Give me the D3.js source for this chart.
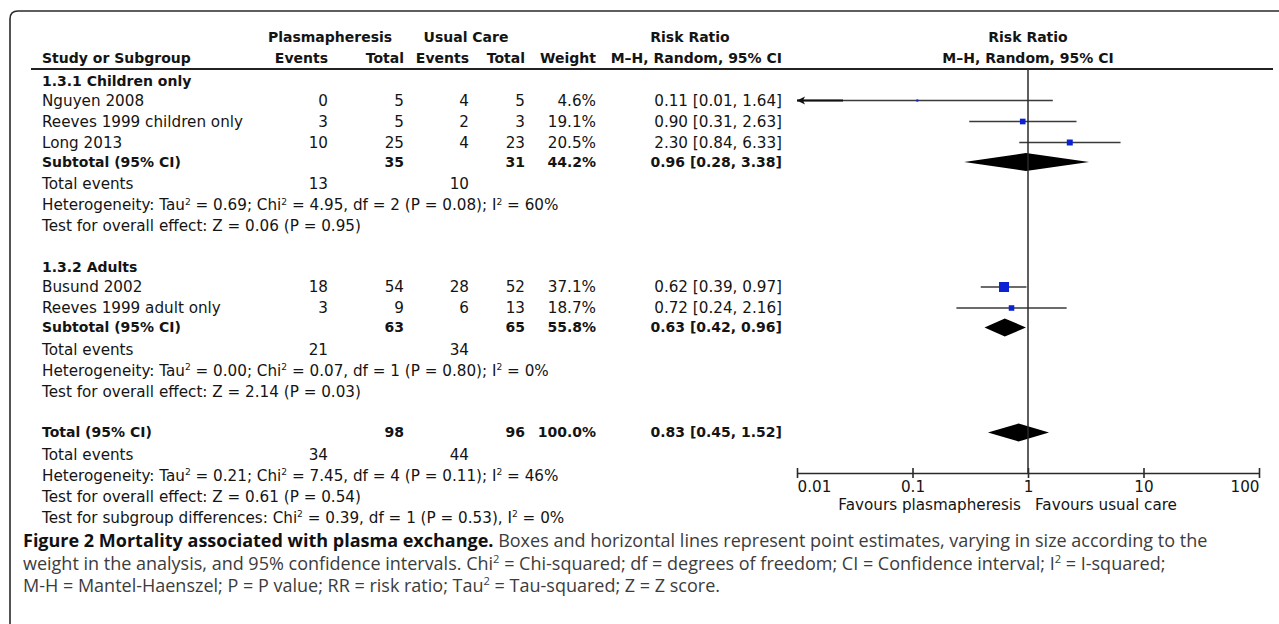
<!DOCTYPE html>
<html>
<head>
<meta charset="utf-8">
<script src="https://cdn.jsdelivr.net/npm/d3@7"></script>
<style>
  html, body { margin: 0; padding: 0; background: #fff; }
  svg { display: block; }
</style>
</head>
<body>
<svg id="chart" width="1279" height="624"></svg>
<script>
// ---------------- DATA ----------------
const groupLabels = ["1.3.1 Children only", "1.3.2 Adults"];
const studyNames = ["Nguyen 2008", "Reeves 1999 children only", "Long 2013", "Busund 2002", "Reeves 1999 adult only"];
const studyGroup = [0, 0, 0, 1, 1];
const plasmaEvents = [0, 3, 10, 18, 3];
const plasmaTotal = [5, 5, 25, 54, 9];
const careEvents = [4, 2, 4, 28, 6];
const careTotal = [5, 3, 23, 52, 13];
const studyWeight = [4.6, 19.1, 20.5, 37.1, 18.7];
const studyRR = [0.11, 0.90, 2.30, 0.62, 0.72];
const studyLow = [0.01, 0.31, 0.84, 0.39, 0.24];
const studyHigh = [1.64, 2.63, 6.33, 0.97, 2.16];

const subPlasmaTotal = [35, 63];
const subCareTotal = [31, 65];
const subPlasmaEvents = [13, 21];
const subCareEvents = [10, 34];
const subWeight = [44.2, 55.8];
const subRR = [0.96, 0.63];
const subLow = [0.28, 0.42];
const subHigh = [3.38, 0.96];
const subTau2 = [0.69, 0.00];
const subChi2 = [4.95, 0.07];
const subDf = [2, 1];
const subHetP = [0.08, 0.80];
const subI2 = [60, 0];
const subZ = [0.06, 2.14];
const subZP = [0.95, 0.03];

const totPlasmaTotal = 98, totCareTotal = 96, totWeight = 100.0;
const totPlasmaEvents = 34, totCareEvents = 44;
const totRR = 0.83, totLow = 0.45, totHigh = 1.52;
const totTau2 = 0.21, totChi2 = 7.45, totDf = 4, totHetP = 0.11, totI2 = 46;
const totZ = 0.61, totZP = 0.54;
const diffChi2 = 0.39, diffDf = 1, diffP = 0.53, diffI2 = 0;

const tickValues = [0.01, 0.1, 1, 10, 100];
const tickLabels = ["0.01", "0.1", "1", "10", "100"];

// ---------------- LAYOUT ----------------
const svg = d3.select("#chart");
const FONT = "DejaVu Sans";
const FS = 15.2;     // regular table text
const FSB = 14;      // bold table text
const ink = "#141414";

const col = { name: 42, pEv: 328, pTot: 404, cEv: 469, cTot: 525, wt: 596, rr: 782 };
const x = d3.scaleLog().domain([0.01, 100]).range([797, 1259]);
const boxSize = d3.scaleLinear().domain([0, 40]).range([1, 10.7]);
const f2 = d3.format(".2f");
const f1 = d3.format(".1f");

// frame
svg.append("path")
  .attr("d", "M10,624 L10,19 Q10,11 18,11 L1279,11")
  .attr("fill", "none").attr("stroke", "#2a2a2a").attr("stroke-width", 1.6);

function txt(xp, yp, s, anchor, bold, size) {
  return svg.append("text")
    .attr("x", xp).attr("y", yp).attr("dy", "0.35em")
    .attr("text-anchor", anchor || "start")
    .attr("font-family", FONT).attr("font-size", size || (bold ? FSB : FS))
    .attr("font-weight", bold ? "bold" : "normal")
    .attr("fill", ink).text(s);
}
function richTxt(xp, yp, parts) {
  const t = svg.append("text").attr("x", xp).attr("y", yp).attr("dy", "0.35em")
    .attr("font-family", FONT).attr("font-size", FS).attr("fill", ink);
  parts.forEach(p => {
    if (p.sup) {
      t.append("tspan").attr("font-size", FS * 0.6).attr("dy", -5.5).text(p.t);
    } else {
      t.append("tspan").attr("dy", p.after ? 5.5 : null).text(p.t);
    }
  });
  return t;
}

// headers
const h1 = 37, h2 = 58;
txt(330, h1, "Plasmapheresis", "middle", true);
txt(466, h1, "Usual Care", "middle", true);
txt(690, h1, "Risk Ratio", "middle", true);
txt(x(1), h1, "Risk Ratio", "middle", true);
txt(col.name, h2, "Study or Subgroup", "start", true);
txt(col.pEv, h2, "Events", "end", true);
txt(col.pTot, h2, "Total", "end", true);
txt(col.cEv, h2, "Events", "end", true);
txt(col.cTot, h2, "Total", "end", true);
txt(col.wt, h2, "Weight", "end", true);
txt(col.rr, h2, "M\u2013H, Random, 95% CI", "end", true);
txt(x(1), h2, "M\u2013H, Random, 95% CI", "middle", true);
svg.append("line").attr("x1", 31).attr("x2", 1273).attr("y1", 69).attr("y2", 69)
  .attr("stroke", "#222").attr("stroke-width", 2);

// rows
const rows = [];
groupLabels.forEach((g, gi) => {
  rows.push({ type: "heading", g: gi });
  studyNames.forEach((n, i) => { if (studyGroup[i] === gi) rows.push({ type: "study", i }); });
  rows.push({ type: "subtotal", g: gi });
  rows.push({ type: "events", g: gi });
  rows.push({ type: "het", g: gi });
  rows.push({ type: "test", g: gi });
});
rows.push({ type: "total" });
rows.push({ type: "events", g: -1 });
rows.push({ type: "het", g: -1 });
rows.push({ type: "test", g: -1 });
rows.push({ type: "diff" });

function gap(prev, cur) {
  if (cur === "heading") return 41.5;
  if (cur === "total") return 41;
  if (cur === "study") return prev === "heading" ? 19.5 : 21;
  if (cur === "subtotal") return 19.5;
  if (cur === "events") return 22;
  return 21;
}
let yy = 81;
rows.forEach((r, k) => {
  if (k > 0) yy += gap(rows[k - 1].type, r.type);
  r.y = yy;
});

const blue = "#0a22d2";
const lineCol = "#3a3a3a";

function diamond(y, lo, est, hi) {
  const hh = 9;
  svg.append("path")
    .attr("d", `M${x(lo)},${y} L${x(est)},${y - hh} L${x(hi)},${y} L${x(est)},${y + hh} Z`)
    .attr("fill", "#000");
}

function supParts(segs) {
  const out = [];
  segs.forEach((s, k) => {
    if (k % 2 === 1) out.push({ t: s, sup: true });
    else out.push({ t: s, after: k > 0 });
  });
  return out;
}

rows.forEach(r => {
  const y = r.y;
  if (r.type === "heading") {
    txt(col.name, y, groupLabels[r.g], "start", true);
  } else if (r.type === "study") {
    const i = r.i;
    txt(col.name, y, studyNames[i]);
    txt(col.pEv, y, plasmaEvents[i], "end");
    txt(col.pTot, y, plasmaTotal[i], "end");
    txt(col.cEv, y, careEvents[i], "end");
    txt(col.cTot, y, careTotal[i], "end");
    txt(col.wt, y, f1(studyWeight[i]) + "%", "end");
    txt(col.rr, y, `${f2(studyRR[i])} [${f2(studyLow[i])}, ${f2(studyHigh[i])}]`, "end");
    const lo = Math.max(studyLow[i], x.domain()[0]);
    const clipped = studyLow[i] <= x.domain()[0];
    svg.append("line").attr("x1", x(lo)).attr("x2", x(Math.min(studyHigh[i], 100)))
      .attr("y1", y).attr("y2", y).attr("stroke", lineCol).attr("stroke-width", 1.3);
    if (clipped) {
      svg.append("line").attr("x1", x(lo)).attr("x2", x(lo) + 46)
        .attr("y1", y).attr("y2", y).attr("stroke", "#111").attr("stroke-width", 1.8);
      svg.append("path")
        .attr("d", `M${x(lo)},${y} L${x(lo) + 8},${y - 4} L${x(lo) + 6},${y} L${x(lo) + 8},${y + 4} Z`)
        .attr("fill", "#111");
    }
    const s = boxSize(studyWeight[i]);
    svg.append("rect").attr("x", x(studyRR[i]) - s / 2).attr("y", y - s / 2)
      .attr("width", s).attr("height", s).attr("fill", blue);
  } else if (r.type === "subtotal") {
    const g = r.g;
    txt(col.name, y, "Subtotal (95% CI)", "start", true);
    txt(col.pTot, y, subPlasmaTotal[g], "end", true);
    txt(col.cTot, y, subCareTotal[g], "end", true);
    txt(col.wt, y, f1(subWeight[g]) + "%", "end", true);
    txt(col.rr, y, `${f2(subRR[g])} [${f2(subLow[g])}, ${f2(subHigh[g])}]`, "end", true);
    diamond(y, subLow[g], subRR[g], subHigh[g]);
  } else if (r.type === "total") {
    txt(col.name, y, "Total (95% CI)", "start", true);
    txt(col.pTot, y, totPlasmaTotal, "end", true);
    txt(col.cTot, y, totCareTotal, "end", true);
    txt(col.wt, y, f1(totWeight) + "%", "end", true);
    txt(col.rr, y, `${f2(totRR)} [${f2(totLow)}, ${f2(totHigh)}]`, "end", true);
    diamond(y, totLow, totRR, totHigh);
  } else if (r.type === "events") {
    const g = r.g;
    txt(col.name, y, "Total events");
    txt(col.pEv, y, g < 0 ? totPlasmaEvents : subPlasmaEvents[g], "end");
    txt(col.cEv, y, g < 0 ? totCareEvents : subCareEvents[g], "end");
  } else if (r.type === "het") {
    const g = r.g;
    const tau = g < 0 ? totTau2 : subTau2[g], chi = g < 0 ? totChi2 : subChi2[g];
    const df = g < 0 ? totDf : subDf[g], p = g < 0 ? totHetP : subHetP[g], i2 = g < 0 ? totI2 : subI2[g];
    richTxt(col.name, y, supParts([
      "Heterogeneity: Tau", "2", ` = ${f2(tau)}; Chi`, "2",
      ` = ${f2(chi)}, df = ${df} (P = ${f2(p)}); I`, "2", ` = ${i2}%`
    ]));
  } else if (r.type === "test") {
    const g = r.g;
    const z = g < 0 ? totZ : subZ[g], p = g < 0 ? totZP : subZP[g];
    txt(col.name, y, `Test for overall effect: Z = ${f2(z)} (P = ${f2(p)})`);
  } else if (r.type === "diff") {
    richTxt(col.name, y, supParts([
      "Test for subgroup differences: Chi", "2",
      ` = ${f2(diffChi2)}, df = ${diffDf} (P = ${f2(diffP)}), I`, "2", ` = ${diffI2}%`
    ]));
  }
});

// axis
const axisY = 473;
svg.append("line").attr("x1", x(1)).attr("x2", x(1)).attr("y1", 69).attr("y2", axisY)
  .attr("stroke", "#2a2a2a").attr("stroke-width", 1.5);

const axis = d3.axisBottom(x).tickValues(tickValues)
  .tickFormat((d, i) => tickLabels[i]).tickSizeOuter(0).tickSizeInner(5).tickPadding(3);
const ag = svg.append("g").attr("transform", `translate(0,${axisY})`).call(axis);
ag.select(".domain").attr("stroke", "#2a2a2a").attr("stroke-width", 1.6);
ag.selectAll(".tick line").attr("y1", -5).attr("y2", 5).attr("stroke", "#2a2a2a").attr("stroke-width", 1.6);
ag.selectAll(".tick text").attr("font-family", FONT).attr("font-size", FS).attr("fill", ink)
  .attr("text-anchor", (d, i) => i === 0 ? "start" : (i === tickValues.length - 1 ? "end" : "middle"));
txt(x(1) - 7, 505, "Favours plasmapheresis", "end");
txt(x(1) + 7, 505, "Favours usual care", "start");

// caption
const CF = "Open Sans";
const CS = 18;
const capCol = "#3c3c3c";
const cap = svg.append("g").attr("font-family", CF).attr("font-size", CS).attr("fill", capCol);
function capLine(yb, parts) {
  const t = cap.append("text").attr("x", 23).attr("y", yb);
  parts.forEach((p, k) => {
    const ts = t.append("tspan").text(p.t);
    if (p.bold) ts.attr("font-weight", "bold").attr("fill", "#111");
    if (p.sup) ts.attr("font-size", CS * 0.62).attr("dy", -7);
    else if (k > 0 && parts[k - 1].sup) ts.attr("dy", 7);
  });
}
capLine(547, [
  { t: "Figure 2 Mortality associated with plasma exchange.", bold: true },
  { t: " Boxes and horizontal lines represent point estimates, varying in size according to the" }
]);
capLine(569.5, [
  { t: "weight in the analysis, and 95% confidence intervals. Chi" }, { t: "2", sup: true },
  { t: " = Chi-squared; df = degrees of freedom; CI = Confidence interval; I" }, { t: "2", sup: true },
  { t: " = I-squared;" }
]);
capLine(592, [
  { t: "M-H = Mantel-Haenszel; P = P value; RR = risk ratio; Tau" }, { t: "2", sup: true },
  { t: " = Tau-squared; Z = Z score." }
]);
</script>
</body>
</html>
